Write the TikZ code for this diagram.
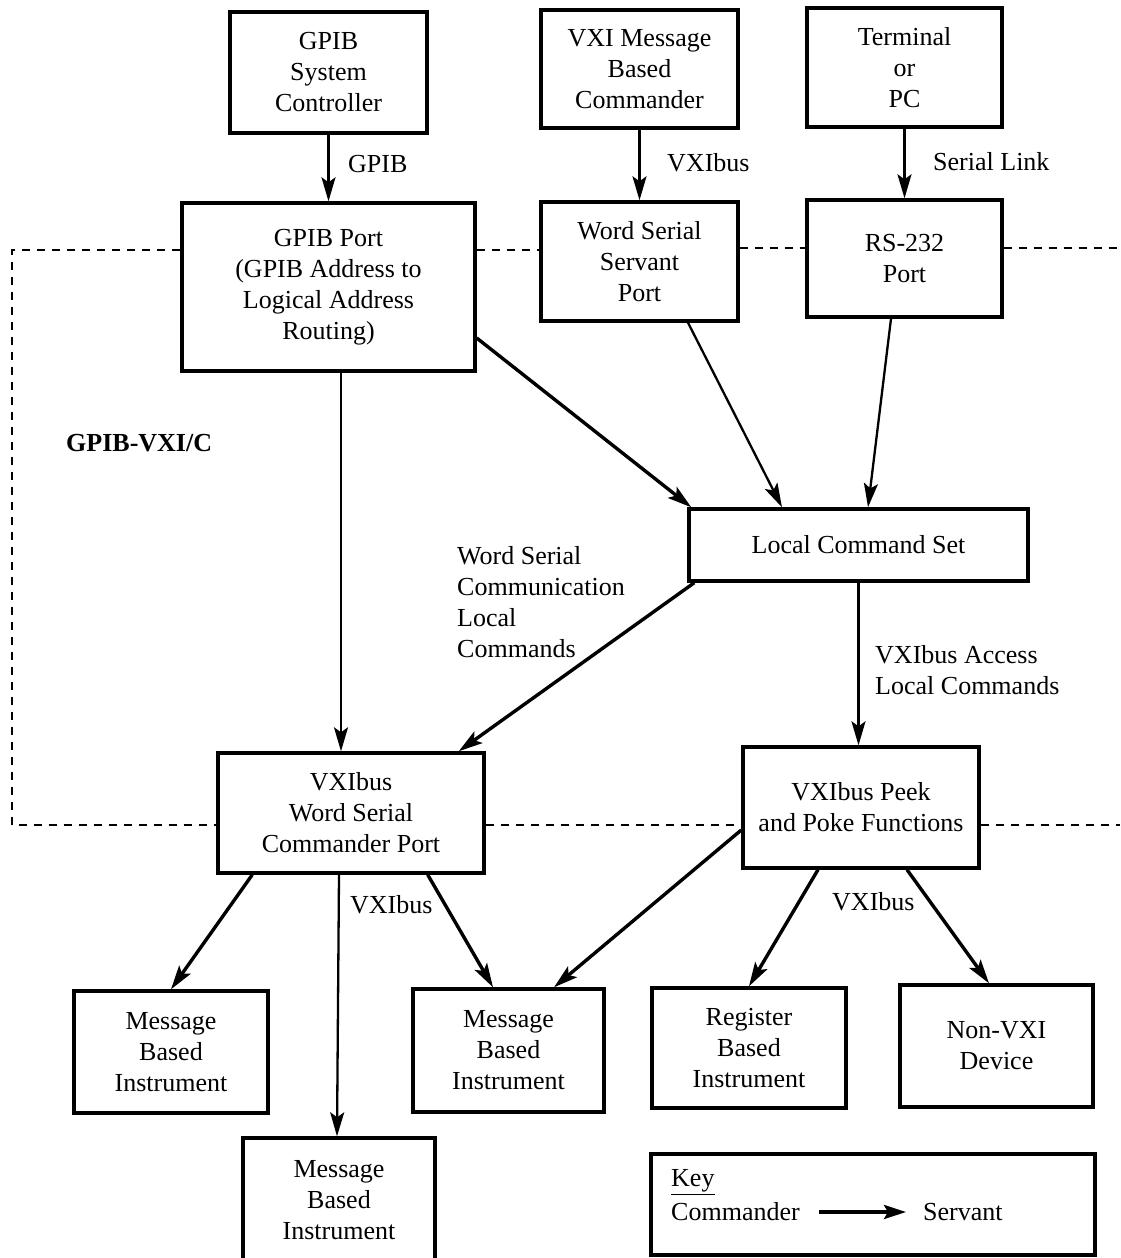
\documentclass[tikz,border=0pt]{standalone}
\usepackage{fontspec}
\setmainfont{Liberation Serif}
\usetikzlibrary{arrows.meta,calc}
\begin{document}
\begin{tikzpicture}[x=1pt,y=-1pt,
 box/.style={draw, line width=3.4pt, align=center, inner sep=0pt, font=\fontsize{26}{31}\selectfont},
 lbl/.style={align=left, inner sep=0pt, anchor=west, font=\fontsize{26}{31}\selectfont},
 arr/.style={line width=3.4pt, -{Stealth[length=24pt,width=14pt,inset=5pt]}},
 arrthin/.style={line width=2.3pt, -{Stealth[length=24pt,width=14pt,inset=5pt]}},
 bound/.style={line width=2.6pt, dash pattern=on 8pt off 7pt}]
\useasboundingbox (0,0) rectangle (1120,1258);

% boxes
\node[box, minimum width=197pt, minimum height=121pt] (ctrl) at (328.5,72.5) {GPIB\\System\\Controller};
\node[box, minimum width=197pt, minimum height=118pt] (vxim) at (639.5,69) {VXI Message\\Based\\Commander};
\node[box, minimum width=195pt, minimum height=119pt] (term) at (904.5,67.5) {Terminal\\or\\PC};
\node[box, minimum width=293pt, minimum height=168pt] (gport) at (328.5,287) {GPIB Port\\(GPIB Address to\\Logical Address\\Routing)};
\node[box, minimum width=197pt, minimum height=119pt] (wss) at (639.5,261.5) {Word Serial\\Servant\\Port};
\node[box, minimum width=195pt, minimum height=117pt] (rs) at (904.5,258.5) {RS-232\\Port};
\node[box, minimum width=339pt, minimum height=72pt] (lcs) at (858.5,545) {Local Command Set};
\node[box, minimum width=266pt, minimum height=120pt] (wsc) at (351,813) {VXIbus\\Word Serial\\Commander Port};
\node[box, minimum width=236pt, minimum height=121pt] (peek) at (861,807.5) {VXIbus Peek\\and Poke Functions};
\node[box, minimum width=194pt, minimum height=122pt] (mbia) at (171,1052) {Message\\Based\\Instrument};
\node[box, minimum width=191pt, minimum height=123pt] (mbib) at (508.5,1050.5) {Message\\Based\\Instrument};
\node[box, minimum width=194pt, minimum height=120pt] (reg) at (749,1048) {Register\\Based\\Instrument};
\node[box, minimum width=193pt, minimum height=122pt] (nonvxi) at (996.5,1046) {Non-VXI\\Device};
\node[box, minimum width=192pt, minimum height=124pt] (mbic) at (339,1200) {Message\\Based\\Instrument};
\node[draw, line width=3.4pt, minimum width=444pt, minimum height=101pt, inner sep=0pt] (key) at (873,1204.5) {};

% boundary of GPIB-VXI/C
\draw[bound] (gport.west |- 0,250) -- (12,250) -- (12,825) -- (wsc.west |- 0,825);
\draw[bound] (gport.east |- 0,250) -- (wss.west |- 0,250);
\draw[bound] (wss.east |- 0,248) -- (rs.west |- 0,248);
\draw[bound] (rs.east |- 0,248) -- (1120,248);
\draw[bound] (wsc.east |- 0,825) -- (peek.west |- 0,825);
\draw[bound] (peek.east |- 0,825) -- (1120,825);

% labels
\node[lbl] (lgpib) at (348,164) {GPIB};
\node[lbl] (lvxi) at (667,163) {VXIbus};
\node[lbl] (lser) at (933,162) {Serial Link};
\node[lbl, font=\fontsize{26}{31}\selectfont\bfseries] (lsys) at (66,443) {GPIB-VXI/C};
\node[lbl] (lwsc) at (457,602) {Word Serial\\Communication\\Local\\Commands};
\node[lbl] (lacc) at (875,670) {VXIbus Access\\Local Commands};
\node[lbl] (lbusa) at (350,905) {VXIbus};
\node[lbl] (lbusb) at (832,902) {VXIbus};

% connectors
\draw[arrthin] (ctrl) -- (gport);
\draw[arrthin] (vxim) -- (wss);
\draw[arrthin] (term) -- (rs);
\draw[arr] ([yshift=-51pt]gport.east) -- ([xshift=4pt]lcs.north west);
\draw[arrthin] ([xshift=48.5pt]wss.south) -- ([xshift=-76.5pt]lcs.north);
\draw[arrthin] ([xshift=-13.5pt]rs.south) -- ([xshift=9.5pt]lcs.north);
\draw[arrthin] ([xshift=12.5pt]gport.south) -- ([xshift=-10pt]wsc.north);
\draw[arr] ([xshift=7pt]lcs.south west) -- ([xshift=-27pt]wsc.north east);
\draw[arrthin] (lcs.south) -- (lcs.south |- peek.north);
\draw[arr] ([xshift=36pt]wsc.south west) -- (mbia.north);
\draw[arrthin] ([xshift=-12pt]wsc.south) -- ([xshift=-2pt]mbic.north);
\draw[arr] ([xshift=-58pt]wsc.south east) -- ([xshift=-15.5pt]mbib.north);
\draw[arr] ([yshift=-22.5pt]peek.west) -- ([xshift=45.5pt]mbib.north);
\draw[arr] ([xshift=-43pt]peek.south) -- (reg.north);
\draw[arr] ([xshift=46pt]peek.south) -- ([xshift=-7.5pt]nonvxi.north);

% key
\node[lbl] (kkey) at (671,1182) {\underline{Key}};
\node[lbl] (kcom) at (671,1212) {Commander};
\node[lbl] (kserv) at (923,1212) {Servant};
\draw[line width=3.6pt, -{Stealth[length=22pt,width=14pt,inset=4pt]}] ([xshift=19pt]kcom.east) -- ([xshift=-17pt]kserv.west);
\end{tikzpicture}
\end{document}
